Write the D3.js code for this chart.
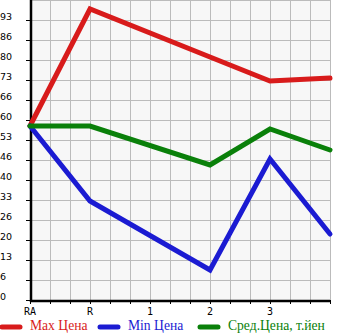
<!DOCTYPE html>
<html>
<head>
<meta charset="utf-8">
<script src="https://cdn.jsdelivr.net/npm/d3@7"></script>
<style>
body { margin: 0; background: #fff; }
</style>
</head>
<body>
<div id="chart"></div>
<script>
var categories = ["RA", "R", "1", "2", "3", ""];
var maxPrice = [58, 97, null, 81, 73, 74];
var minPrice = [58, 33, null, 10, 47, 22];
var avgPrice = [58, 58, null, 45, 57, 50];
var yTickLabels = ["0", "6", "13", "20", "26", "33", "40", "46", "53", "60", "66", "73", "80", "86", "93"];
var seriesNames = ["Max Цена", "Min Цена", "Сред.Цена, т.йен"];
var seriesColors = ["#d81b1b", "#1b1bd2", "#0a800a"];

var width = 345, height = 335;
var plotLeft = 30, plotRight = 330, plotTop = 0, plotBottom = 300;

var svg = d3.select("#chart").append("svg")
    .attr("width", width)
    .attr("height", height);

var x = d3.scaleLinear().domain([0, 5]).range([plotLeft, plotRight]);
var y = d3.scaleLinear().domain([0, 100]).range([plotBottom, plotTop]);

svg.append("rect")
    .attr("x", plotLeft).attr("y", plotTop)
    .attr("width", plotRight - plotLeft).attr("height", plotBottom - plotTop)
    .attr("fill", "#f7f7f7");

// grid
var xGrid = d3.range(16).map(function(k) { return k / 3; });
var yGrid = d3.range(16).map(function(k) { return k * 100 / 15; });

svg.selectAll(".vgrid").data(xGrid).enter().append("line")
    .attr("x1", function(d) { return x(d) + 0.5; }).attr("x2", function(d) { return x(d) + 0.5; })
    .attr("y1", plotTop).attr("y2", plotBottom)
    .attr("stroke", "#bbb").attr("stroke-width", 1);

svg.selectAll(".hgrid").data(yGrid).enter().append("line")
    .attr("x1", plotLeft).attr("x2", plotRight)
    .attr("y1", function(d) { return y(d) + 0.5; }).attr("y2", function(d) { return y(d) + 0.5; })
    .attr("stroke", "#bbb").attr("stroke-width", 1);

// y ticks + labels
svg.selectAll(".ytick").data(yGrid.slice(0, 15)).enter().append("line")
    .attr("x1", plotLeft - 4).attr("x2", plotLeft)
    .attr("y1", function(d) { return y(d) + 0.5; }).attr("y2", function(d) { return y(d) + 0.5; })
    .attr("stroke", "#000");

svg.selectAll(".ylab").data(yTickLabels).enter().append("text")
    .attr("x", 0)
    .attr("y", function(d, i) { return y(yGrid[i]) - 3; })
    .attr("dominant-baseline", "middle")
    .attr("font-family", "DejaVu Sans, sans-serif")
    .attr("font-size", 9.5)
    .attr("fill", "#000")
    .text(function(d) { return d; });

// x ticks + labels
svg.selectAll(".xtick").data(xGrid).enter().append("line")
    .attr("x1", function(d) { return x(d) + 0.5; }).attr("x2", function(d) { return x(d) + 0.5; })
    .attr("y1", plotBottom).attr("y2", plotBottom + 4)
    .attr("stroke", "#000");

svg.selectAll(".xlab").data(categories).enter().append("text")
    .attr("x", function(d, i) { return x(i); })
    .attr("y", plotBottom + 12)
    .attr("text-anchor", "middle")
    .attr("dominant-baseline", "middle")
    .attr("font-family", "DejaVu Sans Mono, monospace")
    .attr("font-size", 10)
    .attr("fill", "#000")
    .text(function(d) { return d; });

// axes
svg.append("line").attr("x1", plotLeft + 1).attr("x2", plotLeft + 1)
    .attr("y1", plotTop).attr("y2", plotBottom + 2)
    .attr("stroke", "#000").attr("stroke-width", 2.5);
svg.append("line").attr("x1", plotLeft).attr("x2", plotRight)
    .attr("y1", plotBottom + 1).attr("y2", plotBottom + 1)
    .attr("stroke", "#000").attr("stroke-width", 2.5);

// series
var line = d3.line()
    .x(function(d) { return x(d.i); })
    .y(function(d) { return y(d.v); });

[maxPrice, minPrice, avgPrice].forEach(function(vals, s) {
    var pts = vals.map(function(v, i) { return { i: i, v: v }; })
        .filter(function(d) { return d.v != null; });
    svg.append("path")
        .datum(pts)
        .attr("d", line)
        .attr("fill", "none")
        .attr("stroke", seriesColors[s])
        .attr("stroke-width", 5)
        .attr("stroke-linejoin", "miter")
        .attr("stroke-linecap", "round");
});

// legend
var legendX = [0, 98, 198];
var lg = svg.selectAll(".legend").data(seriesNames).enter().append("g")
    .attr("transform", function(d, i) { return "translate(" + legendX[i] + ",327)"; });
lg.append("line")
    .attr("x1", 2).attr("x2", 20).attr("y1", 0).attr("y2", 0)
    .attr("stroke", function(d, i) { return seriesColors[i]; })
    .attr("stroke-width", 5)
    .attr("stroke-linecap", "round");
lg.append("text")
    .attr("x", 30).attr("y", 0)
    .attr("dominant-baseline", "middle")
    .attr("font-family", "Liberation Serif, serif")
    .attr("font-size", 13.6)
    .attr("fill", function(d, i) { return seriesColors[i]; })
    .text(function(d) { return d; });
</script>
</body>
</html>
